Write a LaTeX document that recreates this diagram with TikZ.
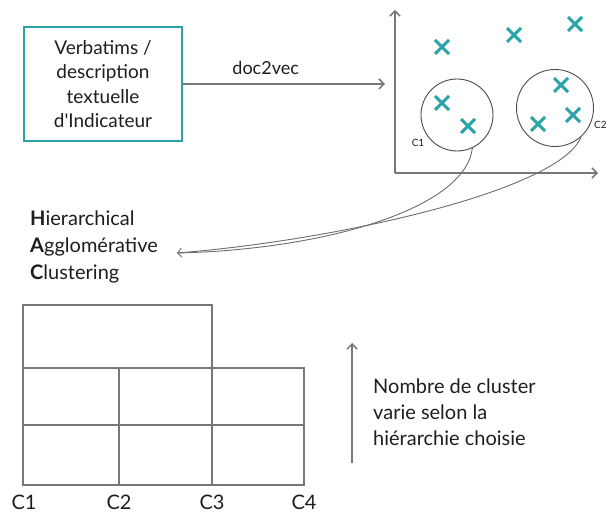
\documentclass[tikz,border=0pt]{standalone}
\usepackage{fontspec}
\setmainfont{Lato}[Ligatures=TeXOff]
\usetikzlibrary{arrows.meta,shapes.misc}
\definecolor{tealc}{RGB}{42,163,168}
\definecolor{linec}{RGB}{120,120,120}
\definecolor{txtc}{RGB}{30,30,30}
\tikzset{
  lbl/.style={font=\fontsize{20}{27}\selectfont, text=txtc, inner sep=0pt},
  smalllbl/.style={font=\fontsize{10}{12}\selectfont, text=txtc, inner sep=0pt},
  gline/.style={draw=linec, line width=1.5pt},
  garrow/.style={draw=linec, line width=1.5pt, -{Straight Barb[length=5pt,width=10pt]}},
  thinarrow/.style={draw=linec!90!black, line width=0.9pt},
  xmark/.style={cross out, draw=tealc, line width=3pt, minimum size=11pt, inner sep=0pt},
  clus/.style={circle, draw=txtc!80, line width=0.9pt, minimum size=72pt, inner sep=0pt}
}
\begin{document}
\begin{tikzpicture}[x=1pt,y=-1pt]
\useasboundingbox (0,0) rectangle (606,513);
% input box
\node[lbl, font=\fontsize{19}{24.3}\selectfont, draw=tealc, line width=1.5pt, minimum width=158pt, minimum height=114pt, align=center] (box) at (103,84)
  {Verbatims /\\description\\textuelle\\d'Indicateur};
\coordinate (vecin) at (385,84);
\draw[garrow] (box.east) -- node[lbl, font=\fontsize{18}{24}\selectfont, pos=0.41, yshift=16pt] (d2v) {doc2vec} (vecin);
% axes
\coordinate (org) at (395,173);
\coordinate (ytop) at (395,10);
\coordinate (xend) at (598,173);
\draw[gline, -{Straight Barb[length=5pt,width=10pt]}] (org) -- (ytop);
\draw[gline, -{Straight Barb[length=5pt,width=10pt]}] (org) -- (xend);
% crosses
\node[xmark] (p1) at (442,47) {};
\node[xmark] (p2) at (514,35) {};
\node[xmark] (p3) at (575,24) {};
\node[xmark] (p4) at (442,103) {};
\node[xmark] (p5) at (468,126) {};
\node[xmark] (p6) at (561,85) {};
\node[xmark] (p7) at (573,115) {};
\node[xmark] (p8) at (538,124) {};
% clusters
\node[clus] (c1) at (457,115) {};
\node[clus, minimum size=77pt] (c2) at (555,108) {};
\node[smalllbl] (c1l) at (418,143) {C1};
\node[smalllbl, anchor=west] (c2l) at (594,125) {C2};
% HAC label
\node[lbl, anchor=north west, align=left] (hac) at (30,211)
  {\textbf{H}ierarchical\\\textbf{A}gglomérative\\\textbf{C}lustering};
\coordinate (hacin) at (177,253);
\draw[thinarrow] (c1.-65) .. controls (465,210) and (320,250) .. (hacin);
\draw[thinarrow, -{Straight Barb[length=4pt,width=9pt]}] (c2.-48) .. controls (560,190) and (340,240) .. (hacin);
% grid
\draw[gline] (23,305) rectangle (212,368);
\draw[gline] (23,368) rectangle (304,485);
\draw[gline] (23,425) -- (304,425);
\draw[gline] (119,368) -- (119,485);
\draw[gline] (212,368) -- (212,485);
\node[lbl] (g1) at (24,502) {C1};
\node[lbl] (g2) at (119,502) {C2};
\node[lbl] (g3) at (212,502) {C3};
\node[lbl] (g4) at (304,502) {C4};
% up arrow and text
\coordinate (ua) at (352,463);
\coordinate (ub) at (352,343);
\draw[garrow] (ua) -- (ub);
\node[lbl, anchor=north west, align=left, font=\fontsize{20}{25.7}\selectfont] (nb) at (373,379)
  {Nombre de cluster\\varie selon la\\hiérarchie choisie};
\end{tikzpicture}
\end{document}
